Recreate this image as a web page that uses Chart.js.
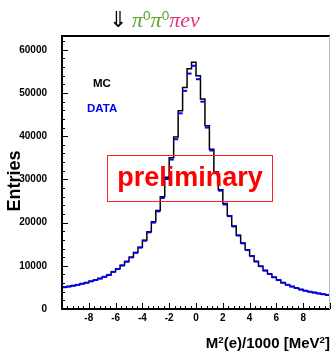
<!DOCTYPE html>
<html>
<head>
<meta charset="utf-8">
<script src="https://cdn.jsdelivr.net/npm/chart.js@4"></script>
<style>
  body { margin: 0; background: #fff; }
  #wrap { position: relative; width: 331px; height: 351px; font-family: "Liberation Sans", Arial, sans-serif; }
  #wrap canvas { position: absolute; left: 0; top: 0; }
  .txt { position: absolute; white-space: nowrap; line-height: 1; }
  #title { left: 109px; top: 8px; font-family: "Liberation Serif", serif; font-size: 22px; font-style: italic; }
  #title .arrow { font-style: normal; color: #000; margin-right: 5px; }
  #title .g { color: #5ba52c; }
  #title .p { color: #e0357c; }
  #title sup { font-size: 0.62em; font-style: normal; font-family: "Liberation Sans", sans-serif; vertical-align: 0.55em; }
  .leg { font-weight: bold; font-size: 11.5px; }
  #prelimBox { position: absolute; left: 107px; top: 155px; width: 164px; height: 45px; border: 1px solid #f22; }
  #prelim { left: 0; width: 380px; top: 164px; text-align: center; font-weight: bold; font-size: 27px; color: #ff0000; }
  #ytitle { left: 14px; top: 181px; font-weight: bold; font-size: 18px; transform: translate(-50%, -50%) rotate(-90deg); }
  #xtitle { right: 1px; top: 335px; font-weight: bold; font-size: 15px; }
  #xtitle sup { font-size: 0.65em; vertical-align: 0.5em; }
</style>
</head>
<body>
<div id="wrap">
  <canvas id="plot" width="331" height="351"></canvas>
  <div class="txt" id="title"><span class="arrow">⇓</span><span class="g">π<sup>0</sup>π<sup>0</sup></span><span class="p">πeν</span></div>
  <div class="txt leg" style="left:93px; top:78px; color:#000;">MC</div>
  <div class="txt leg" style="left:87px; top:103px; color:#0000ff;">DATA</div>
  <div id="prelimBox"></div>
  <div class="txt" id="prelim">preliminary</div>
  <div class="txt" id="ytitle">Entries</div>
  <div class="txt" id="xtitle">M<sup>2</sup>(e)/1000 [MeV<sup>2</sup>]</div>
</div>
<script>
// histogram binning: 60 bins of 1/3 between -10 and 10 (x in MeV^2/1000)
const xMin = -10;
const xMax = 10;
const binWidth = 1 / 3;

// MC entries per bin
const mcCounts = [
  5050, 5200, 5400, 5600, 5850, 6100, 6400, 6700, 7050, 7450,
  7900, 8650, 9300, 10100, 11000, 12000, 13100, 14300, 15900, 17900,
  20200, 22800, 26000, 30500, 35000, 39800, 45900, 51300, 55600, 57100,
  54000, 48600, 42400, 37000, 31800, 27600, 24400, 21600, 19200, 17100,
  15300, 13700, 12300, 11000, 9900, 8900, 8100, 7350, 6700, 6100,
  5600, 5200, 4850, 4500, 4250, 4000, 3800, 3600, 3420, 3250
];

// DATA entries per bin
const dataCounts = [
  5050, 5200, 5400, 5600, 5850, 6100, 6400, 6700, 7050, 7450,
  7900, 8600, 9250, 10050, 10950, 11950, 13000, 14200, 15800, 17750,
  20000, 22600, 25700, 30100, 34600, 39300, 45300, 50500, 54500, 56300,
  53200, 48000, 42000, 36700, 31500, 27400, 24200, 21500, 19100, 17000,
  15200, 13650, 12250, 11000, 9900, 8900, 8100, 7350, 6700, 6100,
  5600, 5200, 4850, 4500, 4250, 4000, 3800, 3600, 3420, 3250
];

const xTickLabels = [-8, -6, -4, -2, 0, 2, 4, 6, 8];
const yTickLabels = [0, 10000, 20000, 30000, 40000, 50000, 60000];
const yMax = 63200;

const mcPoints = mcCounts.map((v, i) => ({ x: xMin + i * binWidth, y: v }));
mcPoints.push({ x: xMax, y: mcCounts[mcCounts.length - 1] });
const dataPoints = dataCounts.map((v, i) => ({ x: xMin + (i + 0.5) * binWidth, y: v }));

// ROOT style frame with ticks pointing inwards
const frameTicks = {
  id: 'frameTicks',
  afterDatasetsDraw(chart) {
    const { ctx, chartArea: a, scales } = chart;
    ctx.save();
    ctx.strokeStyle = '#000';
    ctx.lineWidth = 1;
    ctx.beginPath();
    for (let v = 0; v <= yMax; v += 2000) {
      const y = Math.round(scales.y.getPixelForValue(v)) + 0.5;
      const len = v % 10000 === 0 ? 6 : 3;
      ctx.moveTo(a.left, y);
      ctx.lineTo(a.left + len, y);
    }
    for (let k = 0; k <= 50; k++) {
      const v = xMin + k * 0.4;
      const x = Math.round(scales.x.getPixelForValue(v)) + 0.5;
      const len = k % 5 === 0 ? 6 : 3;
      ctx.moveTo(x, a.bottom);
      ctx.lineTo(x, a.bottom - len);
    }
    ctx.stroke();
    ctx.lineWidth = 2;
    ctx.beginPath();
    ctx.moveTo(a.right, a.top);
    ctx.lineTo(a.left, a.top);
    ctx.lineTo(a.left, a.bottom);
    ctx.lineTo(a.right, a.bottom);
    ctx.stroke();
    ctx.strokeStyle = '#bbb';
    ctx.lineWidth = 1;
    ctx.beginPath();
    ctx.moveTo(a.right - 0.5, a.top);
    ctx.lineTo(a.right - 0.5, a.bottom);
    ctx.stroke();
    ctx.restore();
  }
};

const tickFont = { family: 'Liberation Sans', size: 10, weight: 'bold' };

new Chart(document.getElementById('plot').getContext('2d'), {
  type: 'scatter',
  data: {
    datasets: [
      {
        label: 'DATA',
        data: dataPoints,
        showLine: false,
        pointStyle: 'line',
        pointRadius: 2.3,
        borderColor: '#0000ff',
        borderWidth: 2
      },
      {
        type: 'line',
        label: 'MC',
        data: mcPoints,
        stepped: 'before',
        borderColor: '#000',
        borderWidth: 1.5,
        pointRadius: 0,
        fill: false
      }
    ]
  },
  options: {
    responsive: false,
    animation: false,
    layout: { autoPadding: false, padding: { top: 36, right: 1, left: 0, bottom: 0 } },
    plugins: {
      legend: { display: false },
      tooltip: { enabled: false }
    },
    scales: {
      x: {
        type: 'linear',
        min: xMin,
        max: xMax,
        afterFit: s => { s.height = 42; s.paddingLeft = 0; s.paddingRight = 0; },
        afterBuildTicks: s => { s.ticks = xTickLabels.map(v => ({ value: v })); },
        grid: { display: false, drawTicks: false },
        border: { display: false },
        ticks: { font: tickFont, color: '#000', padding: 3, maxRotation: 0 }
      },
      y: {
        min: 0,
        max: yMax,
        afterFit: s => { s.width = 62; s.paddingTop = 0; s.paddingBottom = 0; },
        afterBuildTicks: s => { s.ticks = yTickLabels.map(v => ({ value: v })); },
        grid: { display: false, drawTicks: false },
        border: { display: false },
        ticks: { font: tickFont, color: '#000', padding: 15, callback: v => String(v) }
      }
    }
  },
  plugins: [frameTicks]
});
</script>
</body>
</html>
